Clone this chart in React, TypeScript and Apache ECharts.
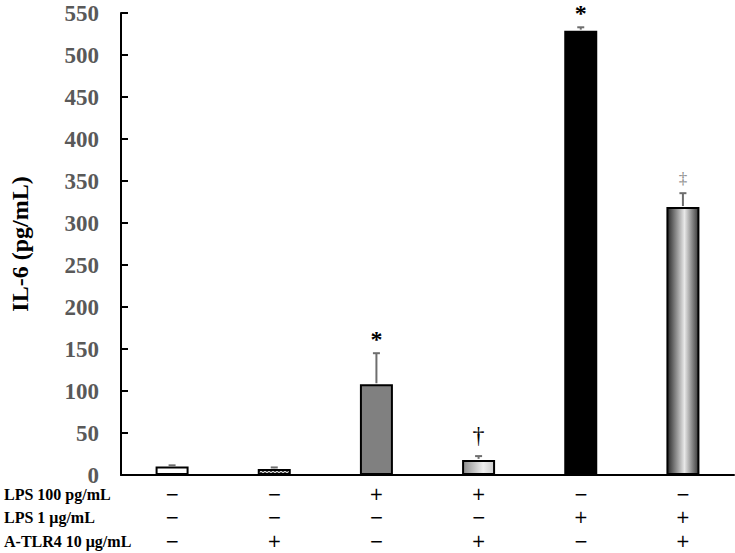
import React, { useEffect, useRef } from "react";
import * as echarts from "echarts";

const lps100 = ["−", "−", "+", "+", "−", "−"];
const lps1 = ["−", "−", "−", "−", "+", "+"];
const atlr4 = ["−", "+", "−", "+", "−", "+"];
const rowLabels = ["LPS 100 pg/mL", "LPS 1 μg/mL", "A-TLR4 10 μg/mL"];
const means = [10, 7, 108, 18, 529, 319];
const errors = [1.5, 2, 37, 4.5, 4, 16.5];
const marks = ["", "", "*", "†", "*", "‡"];
const yTicks = { min: 0, max: 550, interval: 50 };

const FONT = "'Liberation Serif', 'Times New Roman', serif";

function makeDots() {
  const c = document.createElement("canvas");
  c.width = 4;
  c.height = 4;
  const ctx = c.getContext("2d")!;
  ctx.fillStyle = "#d8d8d8";
  ctx.fillRect(0, 0, 4, 4);
  ctx.fillStyle = "#555";
  ctx.fillRect(0, 0, 2, 2);
  ctx.fillRect(2, 2, 2, 2);
  return c;
}

export default function App() {
  const ref = useRef<HTMLDivElement>(null);
  useEffect(() => {
    if (!ref.current) return;
    const chart = echarts.init(ref.current, null, { renderer: "svg" });
    const categories = lps100.map((_, i) => `${lps100[i]}\n${lps1[i]}\n${atlr4[i]}`);
    const dots = makeDots();
    const fills: any[] = [
      "#ffffff",
      { image: dots, repeat: "repeat", imageWidth: 4, imageHeight: 4 },
      "#808080",
      new echarts.graphic.LinearGradient(0, 0, 1, 0, [
        { offset: 0, color: "#8c8c8c" },
        { offset: 0.65, color: "#f0f0f0" },
        { offset: 1, color: "#cccccc" },
      ]),
      "#000000",
      new echarts.graphic.LinearGradient(0, 0, 1, 0, [
        { offset: 0, color: "#2a2a2a" },
        { offset: 0.55, color: "#e8e8e8" },
        { offset: 1, color: "#3a3a3a" },
      ]),
    ];
    chart.setOption({
      animation: false,
      grid: { left: 119, right: 1, top: 13, bottom: 78, containLabel: false },
      xAxis: {
        type: "category",
        data: categories,
        axisLine: { lineStyle: { color: "#000", width: 2 } },
        axisTick: { inside: true, length: 3, interval: 0, lineStyle: { color: "#000", width: 2 } },
        axisLabel: {
          interval: 0,
          margin: 7,
          color: "#000",
          fontFamily: "'DejaVu Sans', sans-serif",
          fontSize: 17,
          lineHeight: 23.5,
        },
      },
      yAxis: {
        type: "value",
        min: yTicks.min,
        max: yTicks.max,
        interval: yTicks.interval,
        name: "IL-6 (pg/mL)",
        nameLocation: "middle",
        nameGap: 89,
        nameTextStyle: { color: "#000", fontFamily: FONT, fontWeight: "bold", fontSize: 24 },
        axisLine: { show: true, lineStyle: { color: "#000", width: 2 } },
        axisTick: { show: true, inside: true, length: 7, lineStyle: { color: "#000", width: 2 } },
        axisLabel: { margin: 22, color: "#595959", fontFamily: FONT, fontWeight: "bold", fontSize: 23 },
        splitLine: { show: false },
      },
      graphic: rowLabels.map((t, i) => ({
        type: "text",
        left: 4,
        top: 494 + i * 23.5 - 8,
        style: { text: t, fill: "#000", font: `bold 16px ${FONT}` },
      })),
      series: [
        {
          type: "bar",
          barWidth: 33,
          data: means.map((v, i) => ({
            value: v,
            itemStyle: { color: fills[i], borderColor: "#000", borderWidth: 2 },
          })),
          z: 2,
        },
        {
          type: "custom",
          z: 3,
          data: means.map((v, i) => [i, v, errors[i], i]),
          renderItem: (params: any, api: any) => {
            const x = api.value(0);
            const v = api.value(1);
            const e = api.value(2);
            const idx = api.value(3);
            const base = api.coord([x, v]);
            const top = api.coord([x, v + e]);
            const m = marks[idx];
            const children: any[] = [
              {
                type: "line",
                shape: { x1: base[0], y1: base[1] - 1, x2: top[0], y2: top[1] },
                style: { stroke: "#6e6e6e", lineWidth: 2 },
              },
              {
                type: "line",
                shape: { x1: top[0] - 3.5, y1: top[1], x2: top[0] + 3.5, y2: top[1] },
                style: { stroke: "#6e6e6e", lineWidth: 2 },
              },
            ];
            if (m) {
              const isDD = m === "‡";
              const isD = m === "†";
              children.push({
                type: "text",
                x: top[0],
                y: top[1] - (isDD ? 15 : isD ? 21 : 14),
                style: {
                  text: m,
                  fill: isDD ? "#888888" : "#000",
                  font: isDD
                    ? `17px ${FONT}`
                    : isD
                    ? `24px ${FONT}`
                    : `bold 24px ${FONT}`,
                  align: "center",
                  verticalAlign: "middle",
                },
              });
            }
            return { type: "group", children };
          },
        },
      ],
    });
    return () => chart.dispose();
  }, []);
  return <div ref={ref} style={{ width: 735, height: 553, position: "absolute", left: 0, top: 0 }} />;
}
